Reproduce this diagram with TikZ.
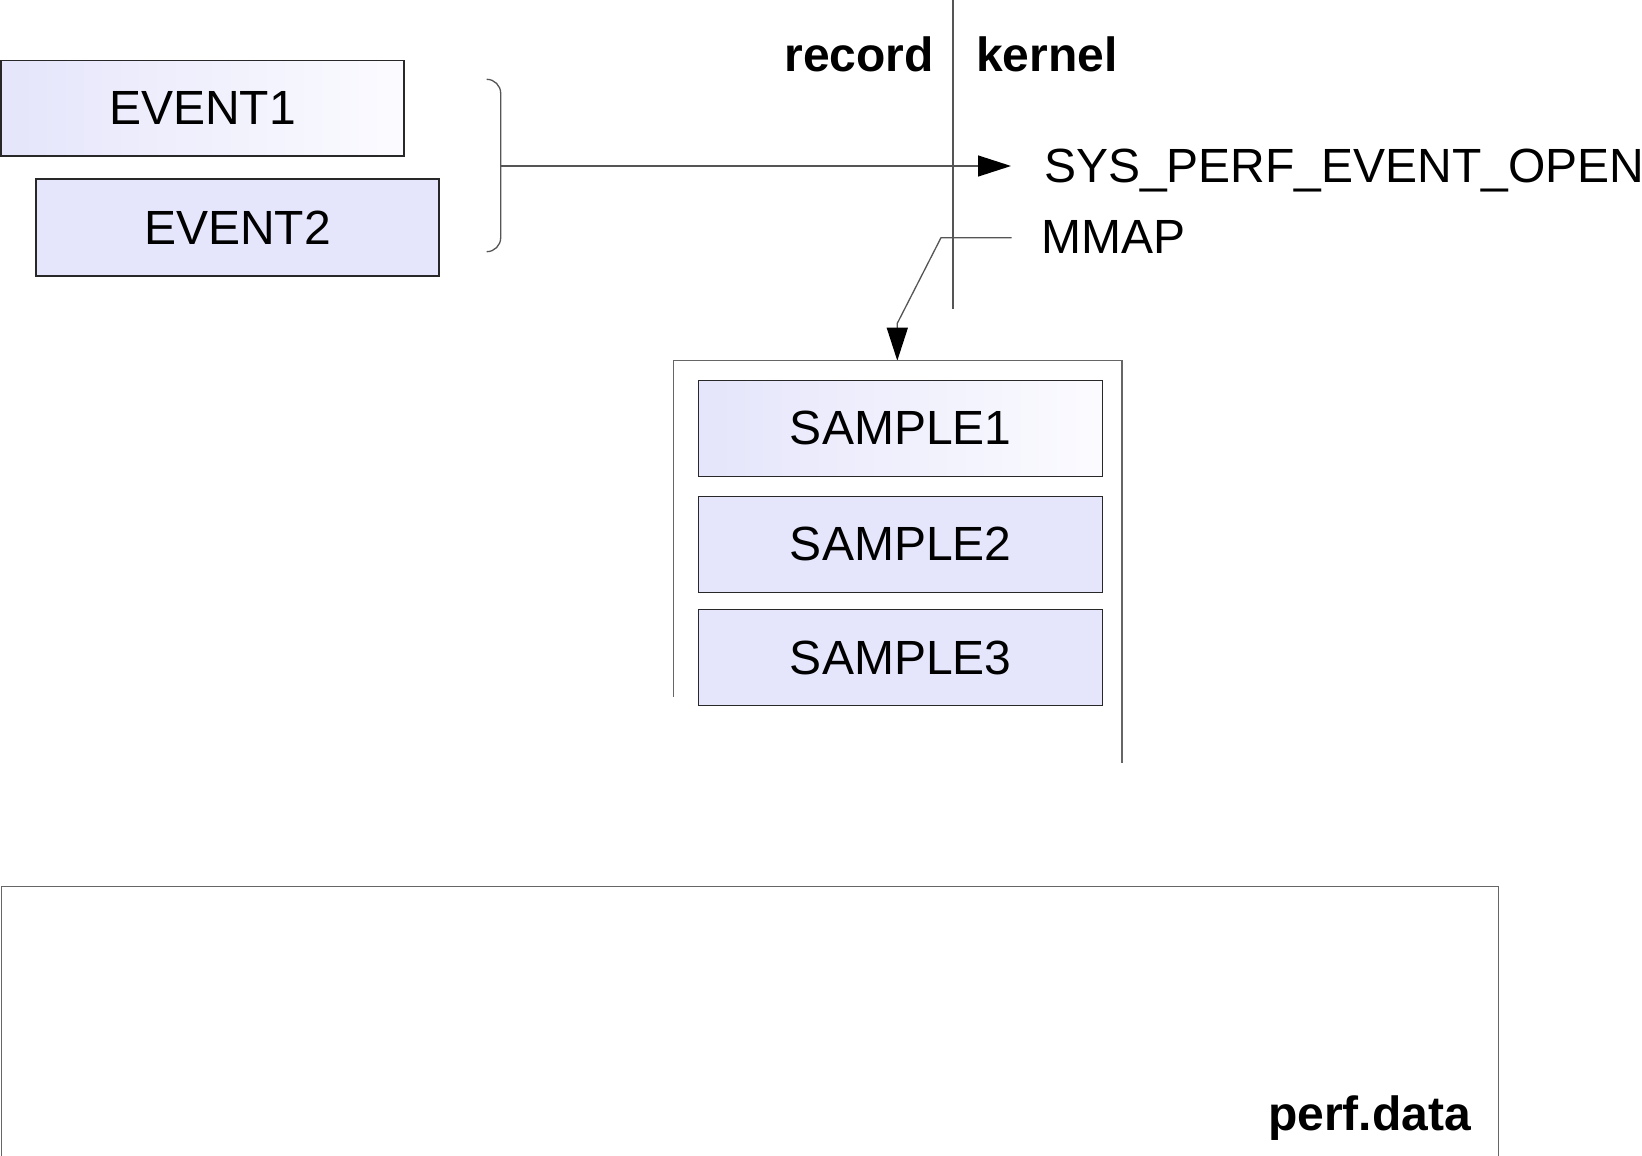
\documentclass[tikz,border=0pt]{standalone}
\usepackage{fontspec}
\setmainfont{Liberation Sans}
\usetikzlibrary{arrows.meta}
\definecolor{lav}{RGB}{229,229,251}
\definecolor{lavlight}{RGB}{251,251,255}
\definecolor{edge}{RGB}{40,40,40}
\definecolor{wirecol}{RGB}{85,85,85}
\begin{document}
\begin{tikzpicture}[x=1pt,y=-1pt,
  bigtext/.style={font=\fontsize{48}{57}\selectfont},
  box/.style={draw=edge, line width=1.3pt, fill=lav, minimum width=404pt,
    minimum height=96pt, inner sep=0pt, bigtext},
  shadedbox/.style={box, left color=lav, right color=lavlight},
  plainlabel/.style={inner sep=0pt, bigtext},
  boldlabel/.style={inner sep=0pt, font=\fontsize{48}{57}\selectfont\bfseries},
  wire/.style={draw=wirecol, line width=1.3pt},
  frame/.style={draw=wirecol!90!white, line width=1.5pt},
  tip/.style={-{Triangle[length=33pt,width=21pt,color=black]}}
]
\useasboundingbox (0,0) rectangle (1642,1156);

% user space / kernel space divider
\draw[wire] (953,0) -- (953,309);
\node[boldlabel, anchor=base east] (record) at (934,72) {record};
\node[boldlabel, anchor=base west] (kernel) at (976,72) {kernel};

% events
\node[shadedbox, minimum width=403pt, minimum height=95.5pt] (event1) at (202.5,108.3) {EVENT1};
\node[box, minimum width=403pt, minimum height=97pt] (event2) at (237.5,227.5) {EVENT2};

% bracket grouping the events
\coordinate (bracetop) at (486.7,79.3);
\coordinate (bracebot) at (486.7,251.7);
\coordinate (bracemid) at (500.7,166);
\draw[wire, rounded corners=14pt] (bracetop) -- (500.7,79.3) -- (500.7,251.7) -- (bracebot);

% system calls
\node[plainlabel, anchor=base west] (sysopen) at (1044,182) {SYS\_PERF\_EVENT\_OPEN};
\node[plainlabel, anchor=base west] (mmap) at (1041,253) {MMAP};
\coordinate (openin) at (1011,166);
\draw[wire, tip] (bracemid) -- (openin);

% mmap buffer
\coordinate (mmapout) at (1011.7,237.7);
\coordinate (mmapbend) at (941,237.7);
\coordinate (mmapkink) at (897.3,323.3);
\coordinate (buftop) at (897.3,360.7);
\draw[wire, tip] (mmapout) -- (mmapbend) -- (mmapkink) -- (buftop);
\draw[frame] (673.3,696.7) -- (673.3,360.7) -- (1122,360.7) -- (1122,763);

\node[shadedbox] (sample1) at (900.7,428.3) {SAMPLE1};
\node[box] (sample2) at (900.7,544.2) {SAMPLE2};
\node[box] (sample3) at (900.7,657.7) {SAMPLE3};

% output file
\node[frame, anchor=north west, minimum width=1497pt, minimum height=320pt, inner sep=0pt]
  (perfbox) at (0.8,885.7) {};
\node[boldlabel, anchor=base west] (perfdata) at (1268,1130) {perf.data};
\end{tikzpicture}
\end{document}
